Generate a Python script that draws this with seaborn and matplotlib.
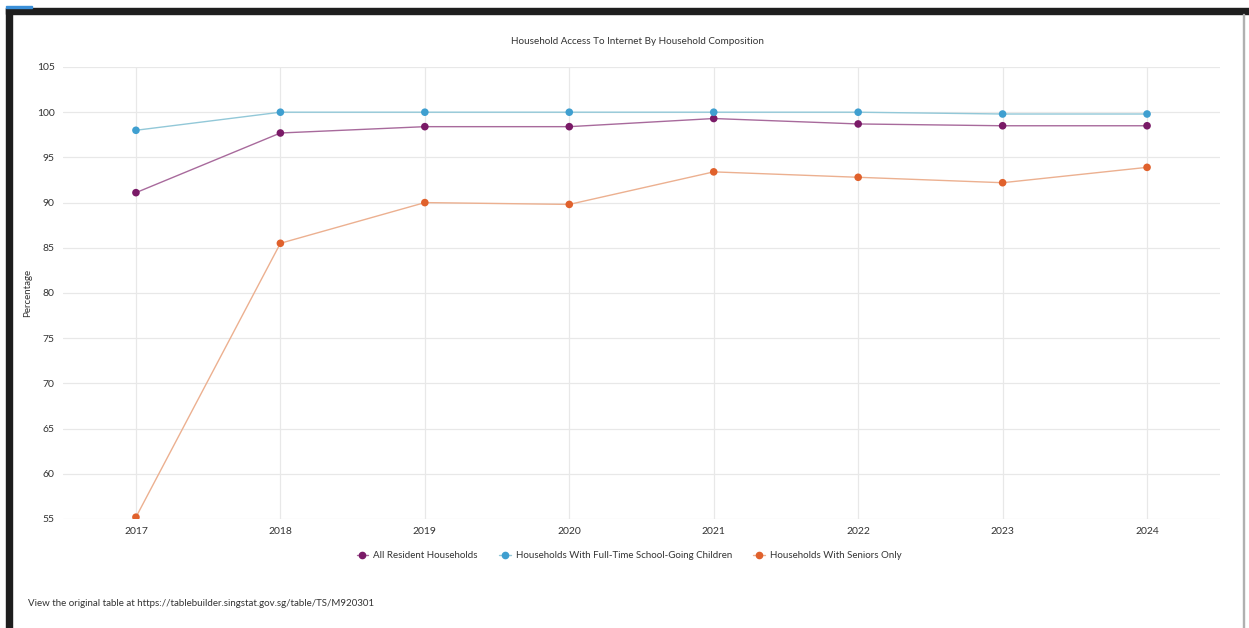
import matplotlib
matplotlib.use("Agg")
import matplotlib.pyplot as plt
from matplotlib.patches import Rectangle
from matplotlib.lines import Line2D
import seaborn as sns
import pandas as pd

years = [2017, 2018, 2019, 2020, 2021, 2022, 2023, 2024]
series_names = [
    "All Resident Households",
    "Households With Full-Time School-Going Children",
    "Households With Seniors Only",
]
all_resident = [91.1, 97.7, 98.4, 98.4, 99.3, 98.7, 98.5, 98.5]
school_children = [98.0, 100.0, 100.0, 100.0, 100.0, 100.0, 99.8, 99.8]
seniors_only = [55.2, 85.5, 90.0, 89.8, 93.4, 92.8, 92.2, 93.9]
y_ticks = [55, 60, 65, 70, 75, 80, 85, 90, 95, 100, 105]

marker_colors = ["#7a1a67", "#3f9fd0", "#e0612c"]
line_colors = ["#a86a9c", "#92c8d8", "#ecb090"]

df = pd.DataFrame({
    "Year": years * 3,
    "Percentage": all_resident + school_children + seniors_only,
    "Series": sum([[n] * len(years) for n in series_names], []),
})

sns.set_theme(style="white")
plt.rcParams["font.family"] = ["Lato", "DejaVu Sans"]
text_color = "#333333"

fig = plt.figure(figsize=(12.49, 6.28), dpi=100)
fig.patch.set_facecolor("white")
ax = fig.add_axes([63 / 1249, 1 - 519 / 628, (1220 - 63) / 1249, (519 - 67) / 628])

sns.lineplot(data=df, x="Year", y="Percentage", hue="Series", hue_order=series_names,
             palette=line_colors, linewidth=1.0, legend=False, ax=ax, zorder=2)
sns.scatterplot(data=df, x="Year", y="Percentage", hue="Series", hue_order=series_names,
                palette=marker_colors, s=30, edgecolor="none", legend=False, ax=ax, zorder=3)

ax.set_xlim(years[0] - 0.505, years[-1] + 0.505)
ax.set_ylim(y_ticks[0], y_ticks[-1])
ax.set_xticks(years)
ax.set_yticks(y_ticks)
ax.set_xticklabels([str(y) for y in years])
ax.grid(True, color="#e8e8e8", linewidth=0.9)
ax.set_axisbelow(True)
for s in ax.spines.values():
    s.set_visible(False)
ax.tick_params(axis="both", length=0, labelsize=7.5, colors=text_color)
ax.tick_params(axis="y", pad=6)
ax.tick_params(axis="x", pad=6)
ax.set_xlabel("")
ax.set_ylabel("Percentage", fontsize=7, color=text_color)
ax.yaxis.set_label_coords(-31 / 1157, 0.5)

fig.text(637 / 1249, 1 - 41 / 628, "Household Access To Internet By Household Composition",
         ha="center", va="center", fontsize=7.1, color=text_color)

# legend entries: marker with a short line through it
handles = [Line2D([0], [0], color=lc, lw=1.0, marker="o", markersize=4.5,
                  markerfacecolor=mc, markeredgecolor=mc)
           for lc, mc in zip(line_colors, marker_colors)]
fig.legend(handles, series_names, loc="center", bbox_to_anchor=(629 / 1249, 1 - 556 / 628),
           ncol=3, frameon=False, fontsize=7.0, handlelength=1.2, handletextpad=0.5,
           columnspacing=2.2, labelcolor=text_color)

fig.text(28 / 1249, 1 - 604 / 628,
         "View the original table at https://tablebuilder.singstat.gov.sg/table/TS/M920301",
         ha="left", va="center", fontsize=7.0, color=text_color)

# window frame
fig.patches.append(Rectangle((6 / 1249, 1 - 14 / 628), 1243 / 1249, 6 / 628,
                             transform=fig.transFigure, color="#1e1e1e", zorder=10))
fig.patches.append(Rectangle((6 / 1249, 0), 6 / 1249, 1 - 8 / 628,
                             transform=fig.transFigure, color="#1e1e1e", zorder=10))
fig.patches.append(Rectangle((6 / 1249, 1 - 8 / 628), 26 / 1249, 2 / 628,
                             transform=fig.transFigure, color="#3a8fd8", zorder=10))
fig.patches.append(Rectangle((1243 / 1249, 0), 1 / 1249, 1 - 14 / 628,
                             transform=fig.transFigure, color="#b0b0b0", zorder=10))

fig.savefig("out.png", dpi=100, facecolor="white")
